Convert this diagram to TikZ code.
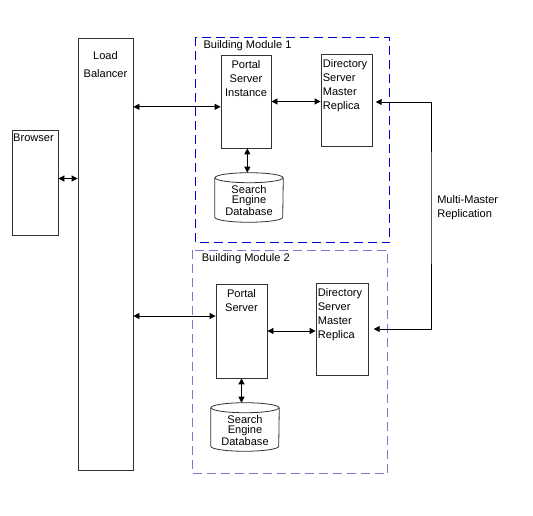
\documentclass[tikz,border=0pt]{standalone}
\usepackage{fontspec}
\setmainfont{Liberation Sans}
\usetikzlibrary{arrows.meta,fit}
\definecolor{moduleA}{RGB}{0,0,210}
\definecolor{moduleB}{RGB}{120,120,205}
\tikzset{
  box/.style={draw=black!80,line width=0.6pt,inner sep=0pt},
  module/.style={line width=0.8pt,dash pattern=on 6.75pt off 3.75pt},
  dbase/.style={inner sep=0pt},
  txt/.style={font=\fontsize{8.3}{10.5}\selectfont,inner sep=0pt},
  dbtxt/.style={font=\fontsize{8.3}{7.5}\selectfont,inner sep=0pt,align=center},
  link/.style={{Triangle[length=4.5pt,width=4.5pt]}-{Triangle[length=4.5pt,width=4.5pt]},line width=0.6pt}
}
\begin{document}
\begin{tikzpicture}[x=0.75pt,y=-0.75pt]
\useasboundingbox (0,0) rectangle (533,516);

\node[box,fit={(12,130) (58,235)}] (browser) {};
\node[box,fit={(78,38) (133,470)}] (lb) {};
\node[inner sep=0pt,fit={(195.5,37.5) (389.5,242.5)}] (bm1) {};
\node[inner sep=0pt,fit={(192.5,250.5) (387.5,473.5)}] (bm2) {};
\draw[module,draw=moduleA] (bm1.north west) rectangle (bm1.south east);
\draw[module,draw=moduleB] (bm2.north west) rectangle (bm2.south east);
\node[box,fit={(221,55) (271,148)}] (psi) {};
\node[box,fit={(321,54) (372,146)}] (ds1) {};
\node[box,fit={(216,284) (267,378)}] (ps2) {};
\node[box,fit={(316,283) (368,375)}] (ds2) {};
\node[dbase,fit={(215,173) (283,222)}] (db1) {};
\node[dbase,fit={(211,403) (279,451)}] (db2) {};
\coordinate (rep) at (431,200);

\foreach \db in {db1,db2} {
  \draw[black!80,line width=0.6pt] ([yshift=-3.75pt]\db.north) ellipse [x radius=34,y radius=5];
  \draw[black!80,line width=0.6pt] ([yshift=-3.75pt]\db.north west) -- ([yshift=3.75pt]\db.south west)
    arc [start angle=180,end angle=0,x radius=34,y radius=5] -- ([yshift=-3.75pt]\db.north east);
}

\node[txt,anchor=north west] at ([shift={(1pt,-3pt)}]browser.north west) {Browser};
\node[txt,anchor=north,align=center,font=\fontsize{8.3}{13.5}\selectfont] at ([yshift=-10pt]lb.north) {Load\\Balancer};
\node[txt,anchor=north west] at ([shift={(6pt,-2.5pt)}]bm1.north west) {Building Module 1};
\node[txt,anchor=north west] at ([shift={(7pt,-2.5pt)}]bm2.north west) {Building Module 2};
\node[txt,anchor=north,align=center] at ([yshift=-4pt]psi.north) {Portal\\Server\\Instance};
\node[txt,anchor=north west,align=left] at ([shift={(1.5pt,-4pt)}]ds1.north west) {Directory\\Server\\Master\\Replica};
\node[txt,anchor=north,align=center] at ([yshift=-4pt]ps2.north) {Portal\\Server};
\node[txt,anchor=north west,align=left] at ([shift={(1.5pt,-4pt)}]ds2.north west) {Directory\\Server\\Master\\Replica};
\node[dbtxt] at ([yshift=-2.5pt]db1.center) {Search\\Engine\\Database};
\node[dbtxt] at ([yshift=-2.5pt]db2.center) {Search\\Engine\\Database};
\node[txt,anchor=north west,align=left] at ([shift={(4.5pt,3.5pt)}]rep) {Multi-Master\\Replication};

\draw[link] ([yshift=3pt]browser.east) -- ([yshift=3pt]lb.west |- browser.east);
\draw[link] ([yshift=-4pt]lb.east |- psi.west) -- ([yshift=-4pt]psi.west);
\draw[link] (psi.east) -- (ds1.west |- psi.east);
\draw[link] ([xshift=1pt]psi.south) -- ([xshift=1pt]psi.south |- db1.north);
\draw[link] ([yshift=11.25pt]lb.east |- ps2.west) -- ([yshift=11.25pt]ps2.west);
\draw[link] (ps2.east) -- (ds2.west |- ps2.east);
\draw[link] (ps2.south) -- (ps2.south |- db2.north);
\draw[link] ([shift={(2.5pt,-1.5pt)}]ds1.east) -| (rep) |- ([xshift=4pt]ds2.east);
\end{tikzpicture}
\end{document}
